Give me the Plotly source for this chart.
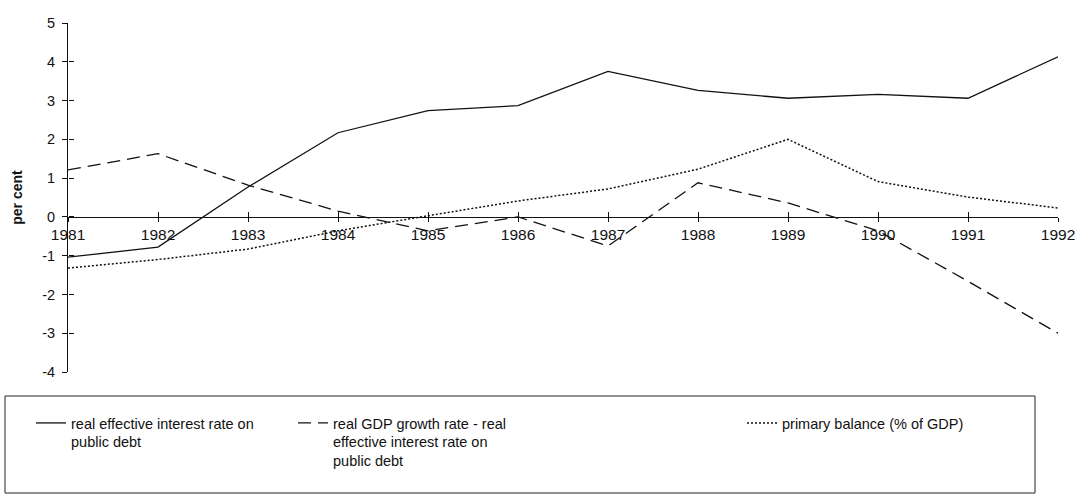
"""
Public debt dynamics chart, 1981-1992
"""
import plotly.graph_objects as go

years = list(range(1981, 1993))
interest_rate = [-1.04, -0.78, 0.77, 2.17, 2.74, 2.87, 3.75, 3.26, 3.06, 3.16, 3.06, 4.13]
growth_minus_rate = [1.21, 1.63, 0.82, 0.15, -0.36, 0.0, -0.75, 0.88, 0.36, -0.36, -1.66, -3.0]
primary_balance = [-1.32, -1.1, -0.83, -0.36, 0.03, 0.41, 0.72, 1.23, 2.0, 0.91, 0.51, 0.23]
y_ticks = [-4, -3, -2, -1, 0, 1, 2, 3, 4, 5]

names = [
    'real effective interest rate on<br>public debt',
    'real GDP growth rate - real<br>effective interest rate on<br>public debt',
    'primary balance (% of GDP)',
]

FONT = 'Liberation Sans, Arial, sans-serif'
INK = '#111111'
W, H = 1079, 496
L, R, T, B = 68, 21, 23, 124
plot_h = H - T - B
plot_w = W - L - R


def px_to_paper_x(px):
    return (px - L) / plot_w


def px_to_paper_y(py):
    return (H - B - py) / plot_h


fig = go.Figure()

fig.add_trace(go.Scatter(
    x=years, y=interest_rate, name=names[0], mode='lines',
    line=dict(color=INK, width=1.3), legend='legend'
))
fig.add_trace(go.Scatter(
    x=years, y=growth_minus_rate, name=names[1], mode='lines',
    line=dict(color=INK, width=1.3, dash='13px,7px'), legend='legend2'
))
fig.add_trace(go.Scatter(
    x=years, y=primary_balance, name=names[2], mode='lines',
    line=dict(color=INK, width=1.5, dash='2px,2px'), legend='legend3'
))
# empty trace so the overlay axes (inner half of the crossing ticks) get drawn
fig.add_trace(go.Scatter(x=[], y=[], xaxis='x2', yaxis='y2', showlegend=False,
                         hoverinfo='skip'))

# legend frame
fig.add_shape(
    type='rect', xref='paper', yref='paper',
    x0=px_to_paper_x(5), x1=px_to_paper_x(1035),
    y0=px_to_paper_y(493), y1=px_to_paper_y(396),
    line=dict(color='#222222', width=1), fillcolor='rgba(0,0,0,0)'
)

legend_style = dict(
    yanchor='top', xanchor='left', valign='top',
    font=dict(family=FONT, size=14.5, color=INK),
    bgcolor='rgba(0,0,0,0)', borderwidth=0,
)
leg_y = px_to_paper_y(407)

axis_common = dict(showgrid=False, zeroline=False, tickcolor=INK, ticklen=5)

fig.update_layout(
    width=W, height=H,
    margin=dict(l=L, r=R, t=T, b=B),
    paper_bgcolor='white', plot_bgcolor='white',
    font=dict(family=FONT, size=13, color=INK),
    showlegend=True,
    legend=dict(x=px_to_paper_x(31), y=leg_y, **legend_style),
    legend2=dict(x=px_to_paper_x(293), y=leg_y, **legend_style),
    legend3=dict(x=px_to_paper_x(742), y=leg_y, **legend_style),
    xaxis=dict(
        range=[1981, 1992], tickvals=years, ticktext=[str(y) for y in years],
        showline=True, linecolor=INK, linewidth=1, ticks='outside',
        anchor='free', position=4 / 9, automargin=False,
        tickfont=dict(family=FONT, size=15.5, color=INK),
        showgrid=False, zeroline=False, tickcolor=INK, ticklen=4,
    ),
    yaxis=dict(
        range=[-4, 5], tickvals=y_ticks, ticktext=[str(v) for v in y_ticks],
        showline=True, linecolor=INK, linewidth=1, ticks='outside', automargin=False,
        ticklabelstandoff=4,
        title=dict(text='<b>per cent</b>', standoff=16,
                   font=dict(family=FONT, size=14, color=INK)),
        tickfont=dict(family=FONT, size=14.5, color=INK),
        **axis_common,
    ),
    xaxis2=dict(
        range=[1981, 1992], tickvals=years, showticklabels=False,
        overlaying='x', anchor='free', position=4 / 9, ticks='inside',
        showline=False, automargin=False, **axis_common,
    ),
    yaxis2=dict(
        range=[-4, 5], tickvals=y_ticks, showticklabels=False,
        overlaying='y', anchor='free', position=0, ticks='inside',
        showline=False, automargin=False, **axis_common,
    ),
)

fig.write_html("out.html", config={'displayModeBar': False},
               post_script="document.body.style.margin='0';")
